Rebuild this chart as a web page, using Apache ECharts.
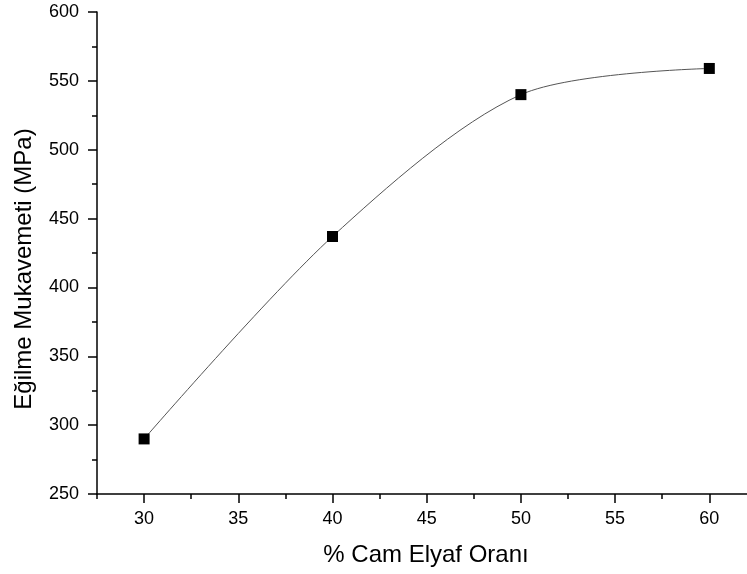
<!DOCTYPE html>
<html>
<head>
<meta charset="utf-8">
<script src="https://cdn.jsdelivr.net/npm/echarts@6/dist/echarts.min.js"></script>
<style>html,body{margin:0;padding:0;background:#fff;}#c{width:747px;height:574px;}</style>
</head>
<body>
<div id="c"></div>
<script>
const xValues = [30, 40, 50, 60];
const yValues = [290, 437, 540, 559];
const xMajorTicks = [30, 35, 40, 45, 50, 55, 60];
const xMinorTicks = [27.5, 32.5, 37.5, 42.5, 47.5, 52.5, 57.5];
const xTitle = '% Cam Elyaf Oranı';
const yTitle = 'Eğilme Mukavemeti (MPa)';

const font = 'Liberation Sans, Arial, sans-serif';
const chart = echarts.init(document.getElementById('c'));
chart.setOption({
  animation: false,
  backgroundColor: '#fff',
  grid: {left: 97, right: 0, top: 12, bottom: 80, containLabel: false},
  xAxis: [{
    type: 'value', min: 27.5, max: 62,
    name: xTitle, nameLocation: 'middle', nameGap: 49,
    nameTextStyle: {fontFamily: font, fontSize: 24, color: '#000', padding: [0, 0, 0, 8]},
    axisLine: {show: true, onZero: false, lineStyle: {color: '#000', width: 1.5}},
    axisTick: {show: true, inside: false, length: 9, customValues: xMajorTicks, lineStyle: {color: '#000', width: 1.5}},
    axisLabel: {customValues: xMajorTicks, margin: 16, fontFamily: font, fontSize: 18, color: '#000'},
    splitLine: {show: false}
  }, {
    type: 'value', min: 27.5, max: 62, position: 'bottom',
    axisLine: {show: false},
    axisTick: {show: true, inside: false, length: 5, customValues: xMinorTicks, lineStyle: {color: '#000', width: 1.5}},
    axisLabel: {show: false},
    splitLine: {show: false}
  }],
  yAxis: {
    type: 'value', min: 250, max: 600, interval: 50,
    name: yTitle, nameLocation: 'middle', nameGap: 61,
    nameTextStyle: {fontFamily: font, fontSize: 24, color: '#000', padding: [0, 32, 0, 0]},
    axisLine: {show: true, onZero: false, lineStyle: {color: '#000', width: 1.5}},
    axisTick: {show: true, inside: false, length: 9, lineStyle: {color: '#000', width: 1.5}},
    minorTick: {show: true, splitNumber: 2, length: 5, lineStyle: {color: '#000', width: 1.5}},
    axisLabel: {margin: 18, fontFamily: font, fontSize: 18, color: '#000'},
    splitLine: {show: false}
  },
  series: [{
    type: 'line',
    data: xValues.map((x, i) => [x, yValues[i]]),
    smooth: 0.3,
    symbol: 'rect', symbolSize: 11,
    itemStyle: {color: '#000'},
    lineStyle: {color: '#555', width: 1}
  }]
});
</script>
</body>
</html>
